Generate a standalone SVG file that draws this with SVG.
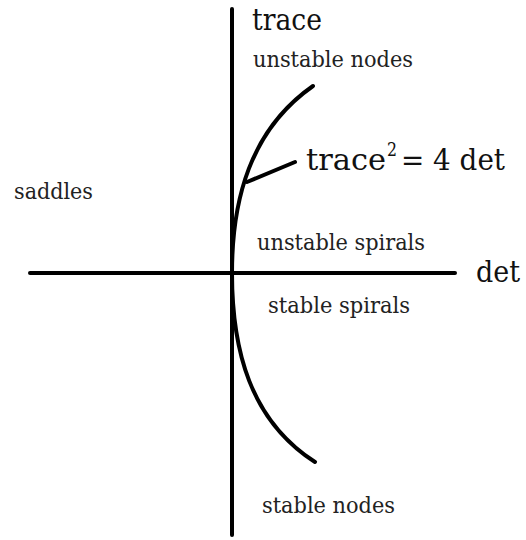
<svg xmlns="http://www.w3.org/2000/svg" width="526" height="540" viewBox="0 0 526 540">
<style>
.ln{fill:none;stroke:#000;stroke-width:4;stroke-linecap:round}
text{font-family:'DejaVu Serif','Liberation Serif',serif}
.big{font-size:30px;fill:#111}
.sup{font-size:19px;fill:#111}
.sm{font-size:22px;fill:#222}
</style>
<rect width="526" height="540" fill="#fff"/>
<g id="connectors">
<line class="ln" x1="232" y1="9" x2="232" y2="535"/>
<line class="ln" x1="30" y1="273" x2="455" y2="273"/>
<path class="ln" d="M232,273 C232,200 250,130 313,86"/>
<path class="ln" d="M232,273 C232,350 250,420 315,462"/>
<line class="ln" x1="247" y1="182" x2="295" y2="162"/>
</g>
<g id="axis-trace"><text class="big" x="252" y="30" textLength="70" lengthAdjust="spacingAndGlyphs">trace</text></g>
<g id="axis-det"><text class="big" x="476" y="282" textLength="44" lengthAdjust="spacingAndGlyphs">det</text></g>
<g id="curve-label">
<text class="big" x="306" y="170" textLength="80" lengthAdjust="spacingAndGlyphs">trace</text>
<text class="sup" x="387" y="156" textLength="10" lengthAdjust="spacingAndGlyphs">2</text>
<text class="big" x="401" y="170" textLength="104" lengthAdjust="spacingAndGlyphs">= 4 det</text>
</g>
<g id="unstable-nodes"><text class="sm" x="253" y="67" textLength="160" lengthAdjust="spacingAndGlyphs">unstable nodes</text></g>
<g id="unstable-spirals"><text class="sm" x="257" y="250" textLength="168" lengthAdjust="spacingAndGlyphs">unstable spirals</text></g>
<g id="stable-spirals"><text class="sm" x="268" y="313" textLength="142" lengthAdjust="spacingAndGlyphs">stable spirals</text></g>
<g id="stable-nodes"><text class="sm" x="262" y="513" textLength="133" lengthAdjust="spacingAndGlyphs">stable nodes</text></g>
<g id="saddles"><text class="sm" x="14" y="199" textLength="79" lengthAdjust="spacingAndGlyphs">saddles</text></g>
</svg>
